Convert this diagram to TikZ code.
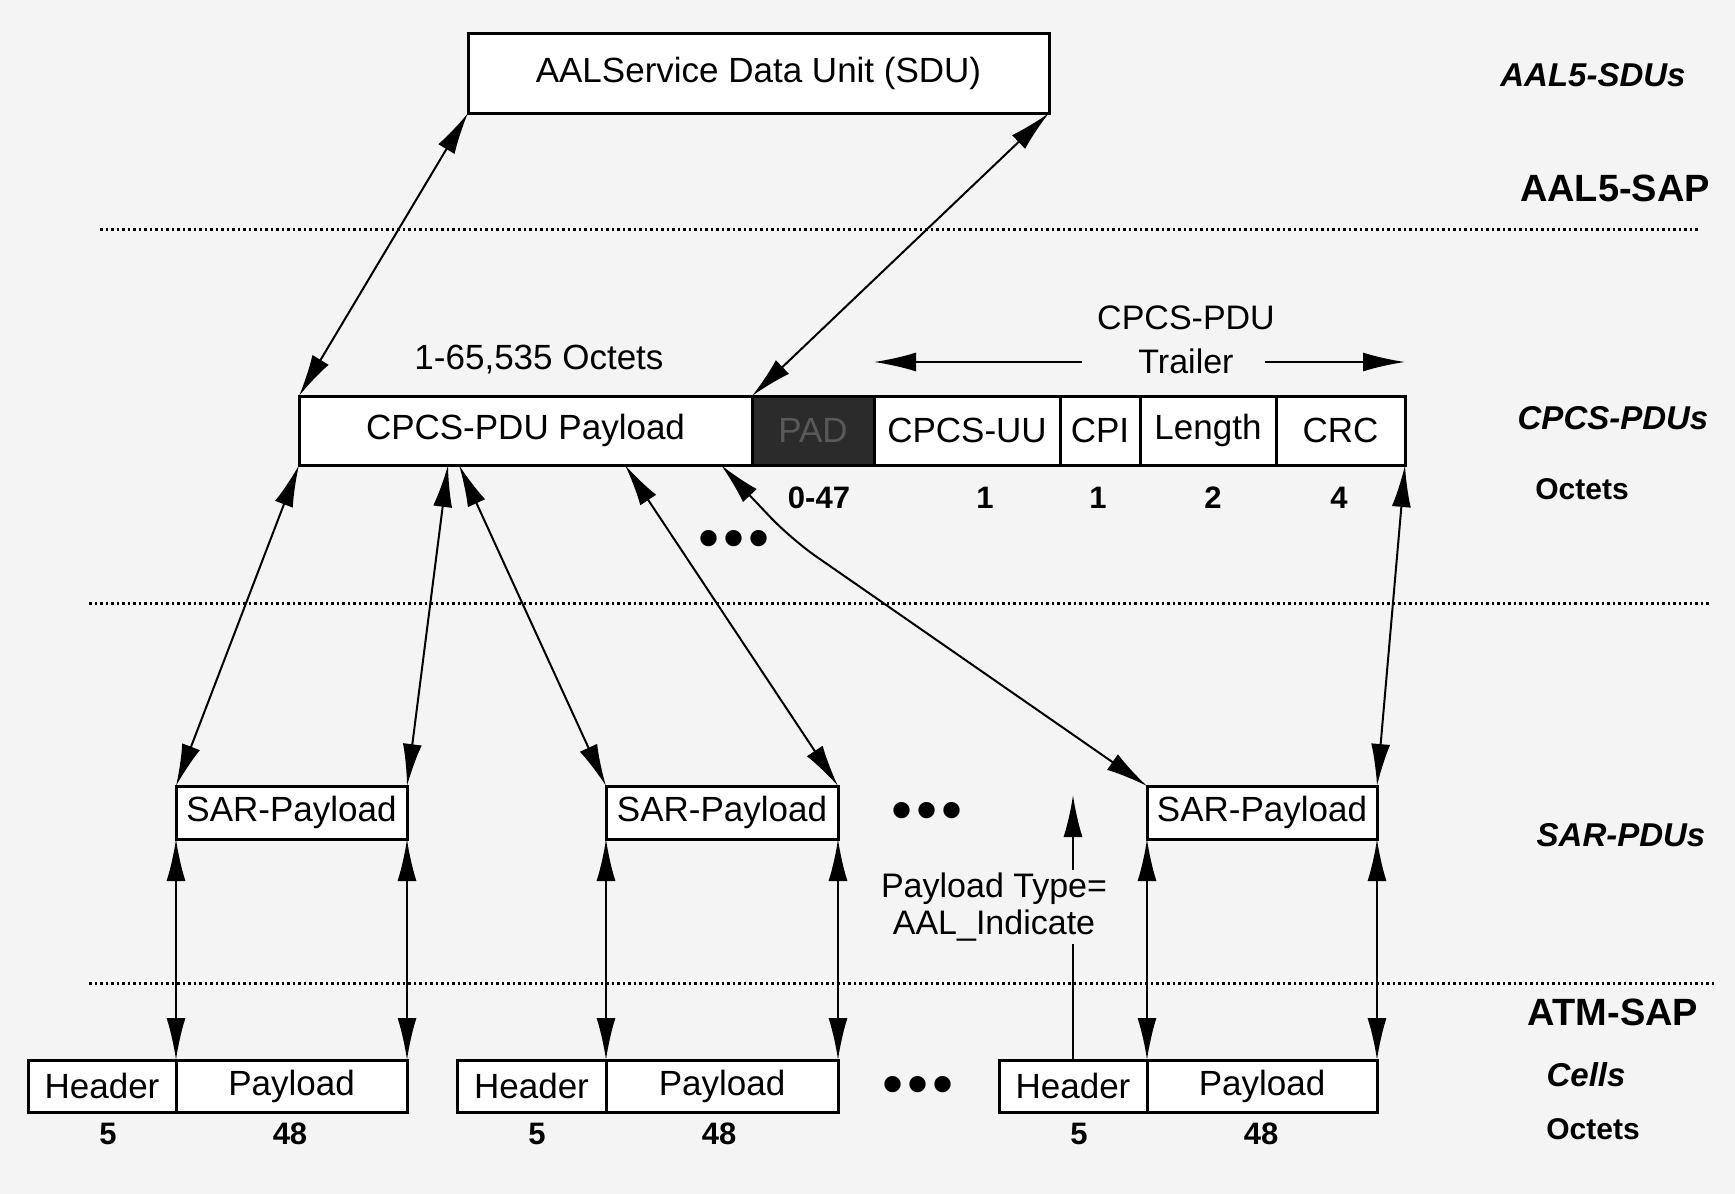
\documentclass[tikz,border=0pt]{standalone}
\usepackage{fontspec}
\setmainfont{Liberation Sans}
\usetikzlibrary{arrows.meta,calc}
\definecolor{paper}{HTML}{F4F4F4}
\definecolor{padfill}{HTML}{2B2B2B}
\begin{document}
\begin{tikzpicture}[x=1pt,y=-1pt,
  box/.style={draw=black, line width=3pt, fill=white, inner sep=0pt, outer sep=0pt,
    anchor=north west, font=\fontsize{35}{38}\selectfont},
  lbl/.style={inner sep=0pt, font=\fontsize{34}{37}\selectfont},
  num/.style={inner sep=0pt, font=\fontsize{31}{34}\selectfont\bfseries},
  side/.style={inner sep=0pt, font=\fontsize{33}{36}\selectfont\bfseries\itshape},
  sap/.style={inner sep=0pt, font=\fontsize{38}{40}\selectfont\bfseries},
  dots/.style={inner sep=0pt, font=\fontsize{60}{60}\selectfont},
  tip/.tip={Latex[length=42pt,width=19pt]},
  link/.style={line width=2pt, tip-tip},
  uplink/.style={line width=2pt, -tip},
  sep/.style={line width=3pt, dash pattern=on 2.5pt off 3pt},
]
% paper
\path[fill=paper] (0,0) rectangle (1735,1194);

% service data unit
\node[box, minimum width=581pt, minimum height=80pt] (sdu) at (468,33)
  {AALService Data Unit (SDU)};

% CPCS-PDU with its trailer fields
\node[box, minimum width=453pt, minimum height=69pt] (pay) at (299,396) {CPCS-PDU Payload};
\node[box, fill=padfill, text=gray!70!black, minimum width=122pt, minimum height=69pt] (pad) at (pay.north east) {PAD};
\node[box, minimum width=186pt, minimum height=69pt] (uu) at (pad.north east) {CPCS-UU};
\node[box, minimum width=80pt, minimum height=69pt] (cpi) at (uu.north east) {CPI};
\node[box, minimum width=136pt, minimum height=69pt] (len) at (cpi.north east) {Length};
\node[box, minimum width=129pt, minimum height=69pt] (crc) at (len.north east) {CRC};

\node[lbl, font=\fontsize{35}{38}\selectfont] (oct) at (539,360) {1-65,535 Octets};
\node[lbl] (trl1) at (1186,318) {CPCS-PDU};
\node[lbl] (trl2) at (1186,361) {Trailer};
\coordinate (trla) at (1082,362);
\coordinate (trlb) at (1265,362);
\draw[uplink] (trla) -- (pad.north east |- trla);
\draw[uplink] (trlb) -- (crc.north east |- trlb);

\node[num] (n1) at (819,498) {0-47};
\node[num] (n2) at (985,498) {1};
\node[num] (n3) at (1098,498) {1};
\node[num] (n4) at (1213,498) {2};
\node[num] (n5) at (1339,498) {4};
\node[dots] (d1) at (734,544) {•\kern4pt•\kern4pt•};

% SAR-PDUs
\node[box, minimum width=231pt, minimum height=53pt] (sar1) at (176,786) {SAR-Payload};
\node[box, minimum width=232pt, minimum height=53pt] (sar2) at (606,786) {SAR-Payload};
\node[box, minimum width=230pt, minimum height=53pt] (sar3) at (1147,786) {SAR-Payload};
\node[dots] (d2) at (927,816) {•\kern4pt•\kern4pt•};

% ATM cells
\node[box, minimum width=148pt, minimum height=52pt] (hdr1) at (28,1060) {Header};
\node[box, minimum width=231pt, minimum height=52pt] (cel1) at (hdr1.north east) {Payload};
\node[box, minimum width=149pt, minimum height=52pt] (hdr2) at (457,1060) {Header};
\node[box, minimum width=232pt, minimum height=52pt] (cel2) at (hdr2.north east) {Payload};
\node[box, minimum width=148pt, minimum height=52pt] (hdr3) at (999,1060) {Header};
\node[box, minimum width=230pt, minimum height=52pt] (cel3) at (hdr3.north east) {Payload};
\node[dots] (d3) at (918,1090) {•\kern4pt•\kern4pt•};

\node[num] (c1a) at (108,1134) {5};
\node[num] (c1b) at (290,1134) {48};
\node[num] (c2a) at (537,1134) {5};
\node[num] (c2b) at (719,1134) {48};
\node[num] (c3a) at (1079,1134) {5};
\node[num] (c3b) at (1261,1134) {48};

% layer boundaries
\coordinate (s1a) at (100,229);  \coordinate (s1b) at (1699,229);
\coordinate (s2a) at (89,603);   \coordinate (s2b) at (1710,603);
\coordinate (s3a) at (89,983);   \coordinate (s3b) at (1715,983);
\draw[sep] (s1a) -- (s1b);
\draw[sep] (s2a) -- (s2b);
\draw[sep] (s3a) -- (s3b);

% layer names
\node[side] (l1) at (1593,75) {AAL5-SDUs};
\node[sap]  (l2) at (1615,188) {AAL5-SAP};
\node[side] (l3) at (1613,418) {CPCS-PDUs};
\node[num, font=\fontsize{30}{33}\selectfont\bfseries] (l4) at (1582,489) {Octets};
\node[side] (l5) at (1621,835) {SAR-PDUs};
\node[sap]  (l6) at (1613,1012) {ATM-SAP};
\node[side] (l7) at (1586,1075) {Cells};
\node[num, font=\fontsize{30}{33}\selectfont\bfseries] (l8) at (1593,1129) {Octets};

% SDU <-> CPCS-PDU
\draw[link] (sdu.south west) -- (pay.north west);
\draw[link] (sdu.south east) -- (pad.north west);

% CPCS-PDU <-> SAR-PDUs
\coordinate (pb) at (448,465);
\coordinate (pc) at (459,465);
\coordinate (pd) at (625,465);
\coordinate (pe) at (721,465);
\coordinate (kink) at (791,539);
\draw[link] (pay.south west) -- (sar1.north west);
\draw[link] (pb) -- (sar1.north east);
\draw[link] (pc) -- (sar2.north west);
\draw[link] (pd) -- (sar2.north east);
\draw[link, rounded corners=30pt] (pe) -- (kink) -- (sar3.north west);
\draw[link] (crc.south east) -- (sar3.north east);

% SAR-PDUs <-> cells
\draw[link] (sar1.south west) -- (hdr1.north east);
\draw[link] (sar1.south east) -- (cel1.north east);
\draw[link] (sar2.south west) -- (hdr2.north east);
\draw[link] (sar2.south east) -- (cel2.north east);
\draw[link] (sar3.south west) -- (hdr3.north east);
\draw[link] (sar3.south east) -- (cel3.north east);

% payload type indication
\coordinate (ptop) at (1073,795);
\draw[uplink] (hdr3.north) -- (ptop);
\node[lbl, fill=paper, inner sep=3pt, align=center] (ptype) at (994,907)
  {Payload Type=\\AAL\_Indicate};
\end{tikzpicture}
\end{document}
